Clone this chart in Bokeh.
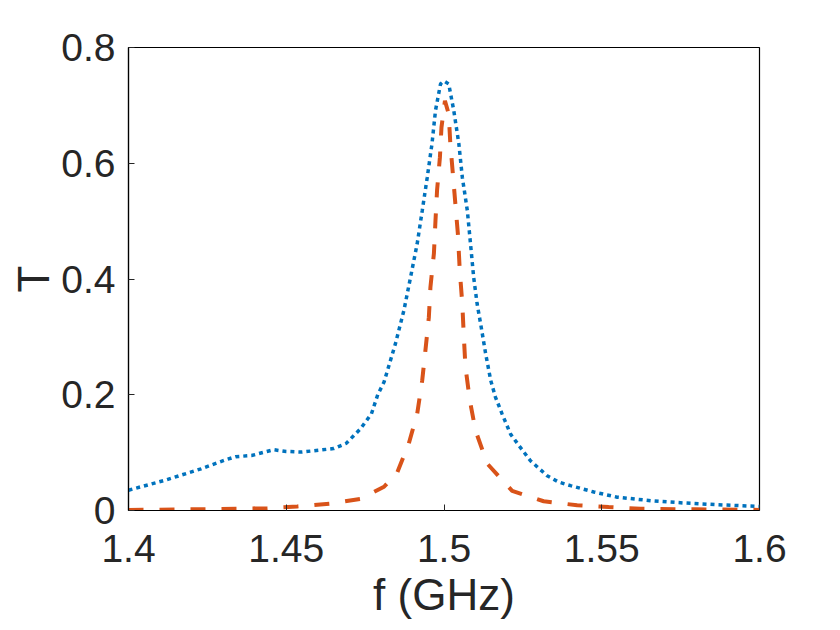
from bokeh.plotting import figure
from bokeh.models import Range1d, FixedTicker
from bokeh.embed import file_html
from bokeh.resources import INLINE

# ---- data ----
f_blue = [1.400, 1.412, 1.423, 1.431, 1.434, 1.439, 1.446, 1.450, 1.455, 1.465,
          1.469, 1.4735, 1.477, 1.479, 1.481, 1.4846, 1.4873, 1.4894, 1.4915, 1.4931,
          1.4947, 1.4962, 1.4973, 1.4989, 1.5000, 1.5015, 1.5031, 1.5047, 1.5058, 1.5074,
          1.5084, 1.5094, 1.5105, 1.5116, 1.5132, 1.5148, 1.5163, 1.5184, 1.5211, 1.5242,
          1.5274, 1.5327, 1.5364, 1.5401, 1.5475, 1.5549, 1.5655, 1.576, 1.5866, 1.600]
T_blue = [0.035, 0.053, 0.072, 0.088, 0.093, 0.095, 0.105, 0.102, 0.101, 0.107,
          0.116, 0.141, 0.167, 0.200, 0.222, 0.288, 0.346, 0.403, 0.461, 0.518,
          0.576, 0.634, 0.691, 0.737, 0.742, 0.737, 0.691, 0.634, 0.576, 0.518,
          0.461, 0.403, 0.357, 0.323, 0.271, 0.225, 0.196, 0.167, 0.132, 0.109,
          0.086, 0.060, 0.049, 0.043, 0.032, 0.023, 0.017, 0.013, 0.010, 0.007]

f_orange = [1.400, 1.420, 1.444, 1.4535, 1.464, 1.4735, 1.481, 1.4852, 1.4888, 1.4915,
            1.4931, 1.4941, 1.4952, 1.4957, 1.4968, 1.4973, 1.4978, 1.4987, 1.4992, 1.5003,
            1.5015, 1.502, 1.5029, 1.5036, 1.5044, 1.505, 1.5058, 1.5063, 1.5068, 1.5082,
            1.510, 1.5137, 1.5216, 1.5316, 1.5422, 1.5522, 1.5623, 1.580, 1.600]
T_orange = [0.001, 0.002, 0.004, 0.007, 0.012, 0.020, 0.041, 0.066, 0.115, 0.167,
            0.225, 0.276, 0.334, 0.386, 0.444, 0.501, 0.553, 0.610, 0.662, 0.708,
            0.685, 0.634, 0.576, 0.530, 0.478, 0.415, 0.357, 0.299, 0.248, 0.190,
            0.138, 0.081, 0.034, 0.016, 0.009, 0.006, 0.003, 0.002, 0.001]

x_ticks = [1.4, 1.45, 1.5, 1.55, 1.6]
x_tick_labels = ["1.4", "1.45", "1.5", "1.55", "1.6"]
y_ticks = [0, 0.2, 0.4, 0.6, 0.8]
y_tick_labels = ["0", "0.2", "0.4", "0.6", "0.8"]

FONT = "Liberation Sans"
TXT = "#262626"

p = figure(width=832, height=622, output_backend="svg", toolbar_location=None,
           x_range=Range1d(1.4, 1.6), y_range=Range1d(0, 0.8),
           min_border_left=128, min_border_right=73, min_border_top=47, min_border_bottom=112)

p.line(f_blue, T_blue, line_color="#0072BD", line_width=3.5, line_dash="4 4")
p.line(f_orange, T_orange, line_color="#D95319", line_width=4, line_dash="15 16")

p.grid.visible = False
p.background_fill_color = "white"
p.border_fill_color = "white"
p.outline_line_color = "#000000"
p.outline_line_width = 1.2
p.outline_line_alpha = 1

p.xaxis.ticker = FixedTicker(ticks=x_ticks)
p.xaxis.major_label_overrides = dict(zip(x_ticks, x_tick_labels))
p.yaxis.ticker = FixedTicker(ticks=y_ticks)
p.yaxis.major_label_overrides = dict(zip(y_ticks, y_tick_labels))

for ax in (p.xaxis[0], p.yaxis[0]):
    ax.axis_line_color = "#000000"
    ax.axis_line_width = 1.2
    ax.major_tick_in = 6
    ax.major_tick_out = 0
    ax.major_tick_line_color = "#262626"
    ax.minor_tick_line_color = None
    ax.major_label_text_font = FONT
    ax.major_label_text_font_size = "39px"
    ax.major_label_text_color = TXT
    ax.axis_label_text_font = FONT
    ax.axis_label_text_font_size = "44px"
    ax.axis_label_text_color = TXT
    ax.axis_label_text_font_style = "normal"

p.xaxis.axis_label = "f (GHz)"
p.yaxis.axis_label = "T"
p.xaxis.major_label_standoff = 24
p.yaxis.major_label_standoff = 13
p.xaxis.axis_label_standoff = 5
p.yaxis.axis_label_standoff = 0

open("out.html", "w").write(file_html(p, INLINE))
